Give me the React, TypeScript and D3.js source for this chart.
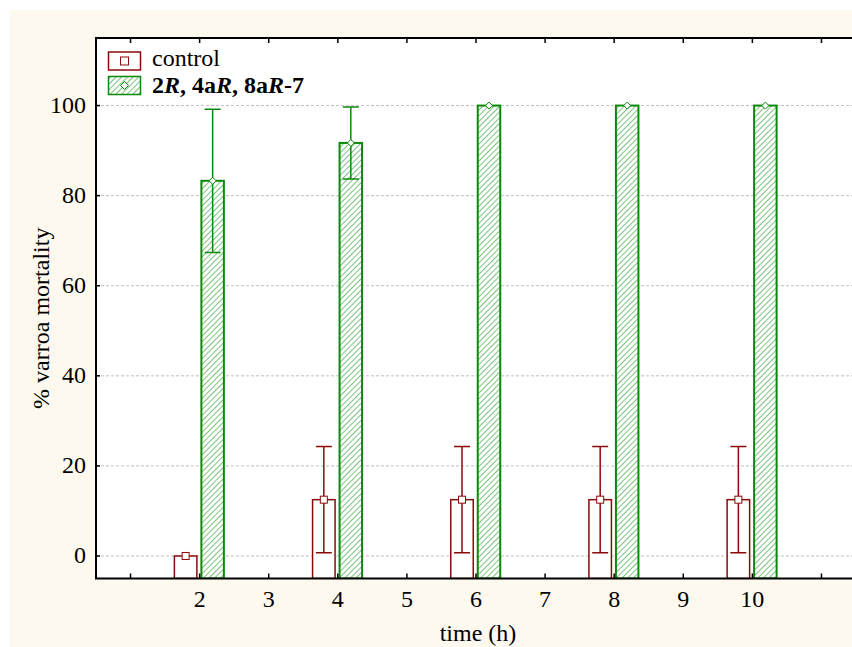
import React from 'react'
import * as d3 from 'd3'

const times = [2, 4, 6, 8, 10]
const controlMean = [0, 12.5, 12.5, 12.5, 12.5]
const controlErr = [0, 11.8, 11.8, 11.8, 11.8]
const treatMean = [83.3, 91.7, 100, 100, 100]
const treatErr = [15.9, 8.0, 0, 0, 0]
const xTicks = [2, 3, 4, 5, 6, 7, 8, 9, 10]
const xMinorTicks = [1, 2, 3, 4, 5, 6, 7, 8, 9, 10, 11]
const yTicks = [0, 20, 40, 60, 80, 100]

const RED = '#8b0a0a'
const GREEN = '#0a8a0a'
const FONT = "'Liberation Serif', 'DejaVu Serif', Times, serif"
const FS = 24

const App = () => {
  const width = 852
  const height = 647
  const m = { left: 96, top: 38, right: 856, bottom: 578.5 }

  const x = d3.scaleLinear().domain([0.5, 11.5]).range([m.left, m.right])
  const y = d3.scaleLinear().domain([-5, 115]).range([m.bottom, m.top])

  const barW = 22.5
  const offC = -14
  const offT = 13
  const cap = 8

  const errorBar = (cx: number, mean: number, err: number, color: string, key: string) => {
    if (!err) return null
    const top = y(mean + err)
    const bot = y(mean - err)
    return (
      <g key={key} stroke={color} strokeWidth={1.5}>
        <line x1={cx} x2={cx} y1={top} y2={bot} />
        <line x1={cx - cap} x2={cx + cap} y1={top} y2={top} />
        <line x1={cx - cap} x2={cx + cap} y1={bot} y2={bot} />
      </g>
    )
  }

  const diamond = (cx: number, cy: number, r: number) =>
    `M${cx},${cy - r}L${cx + r},${cy}L${cx},${cy + r}L${cx - r},${cy}Z`

  const txt = { fontFamily: FONT }

  return (
    <svg
      width={width}
      height={height}
      style={{ position: 'absolute', left: 0, top: 0, fontFamily: FONT }}
    >
      <defs>
        <pattern id="hatch" patternUnits="userSpaceOnUse" width={4} height={4} patternTransform="rotate(45)">
          <rect width={4} height={4} fill="#ffffff" />
          <line x1={0} y1={0} x2={0} y2={4} stroke="#5cb35c" strokeWidth={1.6} />
        </pattern>
        <clipPath id="plotClip">
          <rect x={m.left} y={m.top} width={m.right - m.left} height={m.bottom - m.top} />
        </clipPath>
      </defs>
      <rect x={0} y={0} width={width} height={height} fill="#ffffff" />
      <rect x={10} y={10} width={width - 10} height={height - 10} fill="#fdf9ef" />
      <rect x={m.left} y={m.top} width={m.right - m.left} height={m.bottom - m.top} fill="#ffffff" />

      {/* grid */}
      {yTicks.map((t) => (
        <line
          key={'g' + t}
          x1={m.left}
          x2={m.right}
          y1={y(t)}
          y2={y(t)}
          stroke="#c0c0c0"
          strokeWidth={1}
          strokeDasharray="3,2"
        />
      ))}

      <g clipPath="url(#plotClip)">
        {/* control bars */}
        {times.map((t, i) => (
          <rect
            key={'c' + t}
            x={x(t) + offC - barW / 2}
            y={y(controlMean[i])}
            width={barW}
            height={y(-5) - y(controlMean[i])}
            fill="#ffffff"
            stroke={RED}
            strokeWidth={1.5}
          />
        ))}
        {/* treatment bars */}
        {times.map((t, i) => (
          <rect
            key={'t' + t}
            x={x(t) + offT - barW / 2}
            y={y(treatMean[i])}
            width={barW}
            height={y(-5) - y(treatMean[i])}
            fill="url(#hatch)"
            stroke={GREEN}
            strokeWidth={2}
          />
        ))}
        {times.map((t, i) => errorBar(x(t) + offC, controlMean[i], controlErr[i], RED, 'ec' + t))}
        {times.map((t, i) => errorBar(x(t) + offT, treatMean[i], treatErr[i], GREEN, 'et' + t))}
        {times.map((t, i) => (
          <rect
            key={'mc' + t}
            x={x(t) + offC - 3.5}
            y={y(controlMean[i]) - 3.5}
            width={7}
            height={7}
            fill="#ffffff"
            stroke={RED}
            strokeWidth={1}
          />
        ))}
        {times.map((t, i) => (
          <path
            key={'mt' + t}
            d={diamond(x(t) + offT, y(treatMean[i]), 3.5)}
            fill="#ffffff"
            stroke={GREEN}
            strokeWidth={1}
          />
        ))}
      </g>

      {/* ticks */}
      {xMinorTicks.map((t) => (
        <g key={'xt' + t} stroke="#000" strokeWidth={1.5}>
          <line x1={x(t)} x2={x(t)} y1={m.bottom} y2={m.bottom - 5} />
          <line x1={x(t)} x2={x(t)} y1={m.top} y2={m.top + 5} />
        </g>
      ))}
      {yTicks.map((t) => (
        <g key={'yt' + t} stroke="#000" strokeWidth={1.5}>
          <line x1={m.left} x2={m.left + 4} y1={y(t)} y2={y(t)} />
          <line x1={m.right} x2={m.right - 4} y1={y(t)} y2={y(t)} />
        </g>
      ))}

      {/* frame */}
      <rect
        x={m.left}
        y={m.top}
        width={m.right - m.left}
        height={m.bottom - m.top}
        fill="none"
        stroke="#000"
        strokeWidth={2}
      />

      {/* tick labels */}
      {yTicks.map((t) => (
        <text key={'yl' + t} x={m.left - 10} y={y(t) + 7} textAnchor="end" fontSize={FS} fill="#000" style={txt}>
          {t}
        </text>
      ))}
      {xTicks.map((t) => (
        <text key={'xl' + t} x={x(t)} y={607} textAnchor="middle" fontSize={FS} fill="#000" style={txt}>
          {t}
        </text>
      ))}

      <text x={478} y={641} textAnchor="middle" fontSize={FS} fill="#000" style={txt}>
        time (h)
      </text>
      <text
        transform={`translate(49, ${(m.top + m.bottom) / 2 + 10}) rotate(-90)`}
        textAnchor="middle"
        fontSize={FS}
        fill="#000"
        style={txt}
      >
        % varroa mortality
      </text>

      {/* legend */}
      <rect x={108.5} y={52} width={32} height={18} fill="#ffffff" stroke={RED} strokeWidth={1.5} />
      <rect x={120.5} y={57} width={8} height={8} fill="#ffffff" stroke={RED} strokeWidth={1} />
      <text x={152} y={66} fontSize={FS} fill="#000" style={txt}>
        control
      </text>
      <rect x={108.5} y={76.5} width={32} height={18} fill="url(#hatch)" stroke={GREEN} strokeWidth={1.5} />
      <path d={diamond(124.5, 85.5, 4)} fill="#ffffff" stroke={GREEN} strokeWidth={1} />
      <text x={152} y={93} fontSize={FS} fill="#000" fontWeight="bold" style={txt}>
        2<tspan fontStyle="italic">R</tspan>, 4a<tspan fontStyle="italic">R</tspan>, 8a
        <tspan fontStyle="italic">R</tspan>-7
      </text>
    </svg>
  )
}

export default App
